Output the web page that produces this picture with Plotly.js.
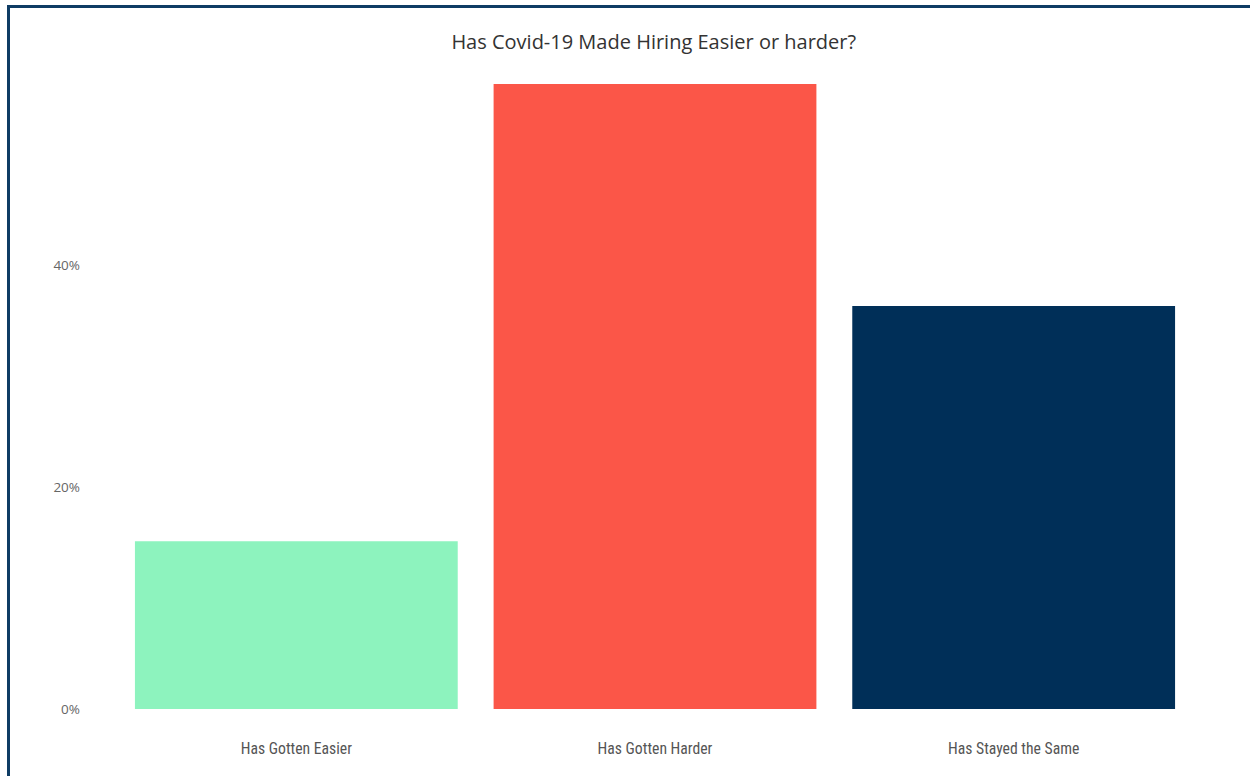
<!DOCTYPE html>
<html>
<head>
<meta charset="utf-8">
<script src="https://cdn.plot.ly/plotly-3.0.1.min.js"></script>
<style>
  html, body { margin: 0; padding: 0; background: #ffffff; overflow: hidden; }
  #frame { position: absolute; left: 7px; top: 5px; width: 1260px; height: 790px; border: 3px solid #0f3c64; box-sizing: border-box; }
  #chart { position: absolute; left: 0; top: 0; width: 1250px; height: 776px; }
</style>
</head>
<body>
<div id="frame"></div>
<div id="chart"></div>
<script>
const categories = ["Has Gotten Easier", "Has Gotten Harder", "Has Stayed the Same"];
const percentages = [15.1, 56.3, 36.3];
const barColors = ["#8df3be", "#fb5648", "#002f58"];
const yTickValues = [0, 20, 40];
const yTickLabels = ["0%", "20%", "40%"];
const chartTitle = "Has Covid-19 Made Hiring Easier or harder?";

const trace = {
  type: "bar",
  x: categories,
  y: percentages,
  marker: { color: barColors, line: { width: 0 } },
  hoverinfo: "x+y"
};

const layout = {
  width: 1250,
  height: 776,
  paper_bgcolor: "rgba(0,0,0,0)",
  plot_bgcolor: "rgba(0,0,0,0)",
  margin: { l: 117, r: 57, t: 65, b: 67 },
  bargap: 0.1,
  showlegend: false,
  title: {
    text: chartTitle,
    x: 0.523, xanchor: "center",
    y: 0.946, yanchor: "middle",
    font: { family: "'Open Sans', Roboto, sans-serif", size: 20, color: "#333333" }
  },
  xaxis: {
    type: "category",
    showgrid: false, zeroline: false, showline: false, ticks: "",
    ticklabelstandoff: 28,
    tickfont: { family: "'Liberation Sans Narrow', 'Roboto Condensed', Roboto, sans-serif", size: 15.7, color: "#555555" }
  },
  yaxis: {
    range: [0, 58],
    tickmode: "array",
    tickvals: yTickValues,
    ticktext: yTickLabels,
    showgrid: false, zeroline: false, showline: false, ticks: "",
    ticklabelstandoff: 36,
    tickfont: { family: "'Open Sans', Roboto, sans-serif", size: 13.5, color: "#666666" }
  }
};

Plotly.newPlot("chart", [trace], layout, { displayModeBar: false, staticPlot: true });
</script>
</body>
</html>
